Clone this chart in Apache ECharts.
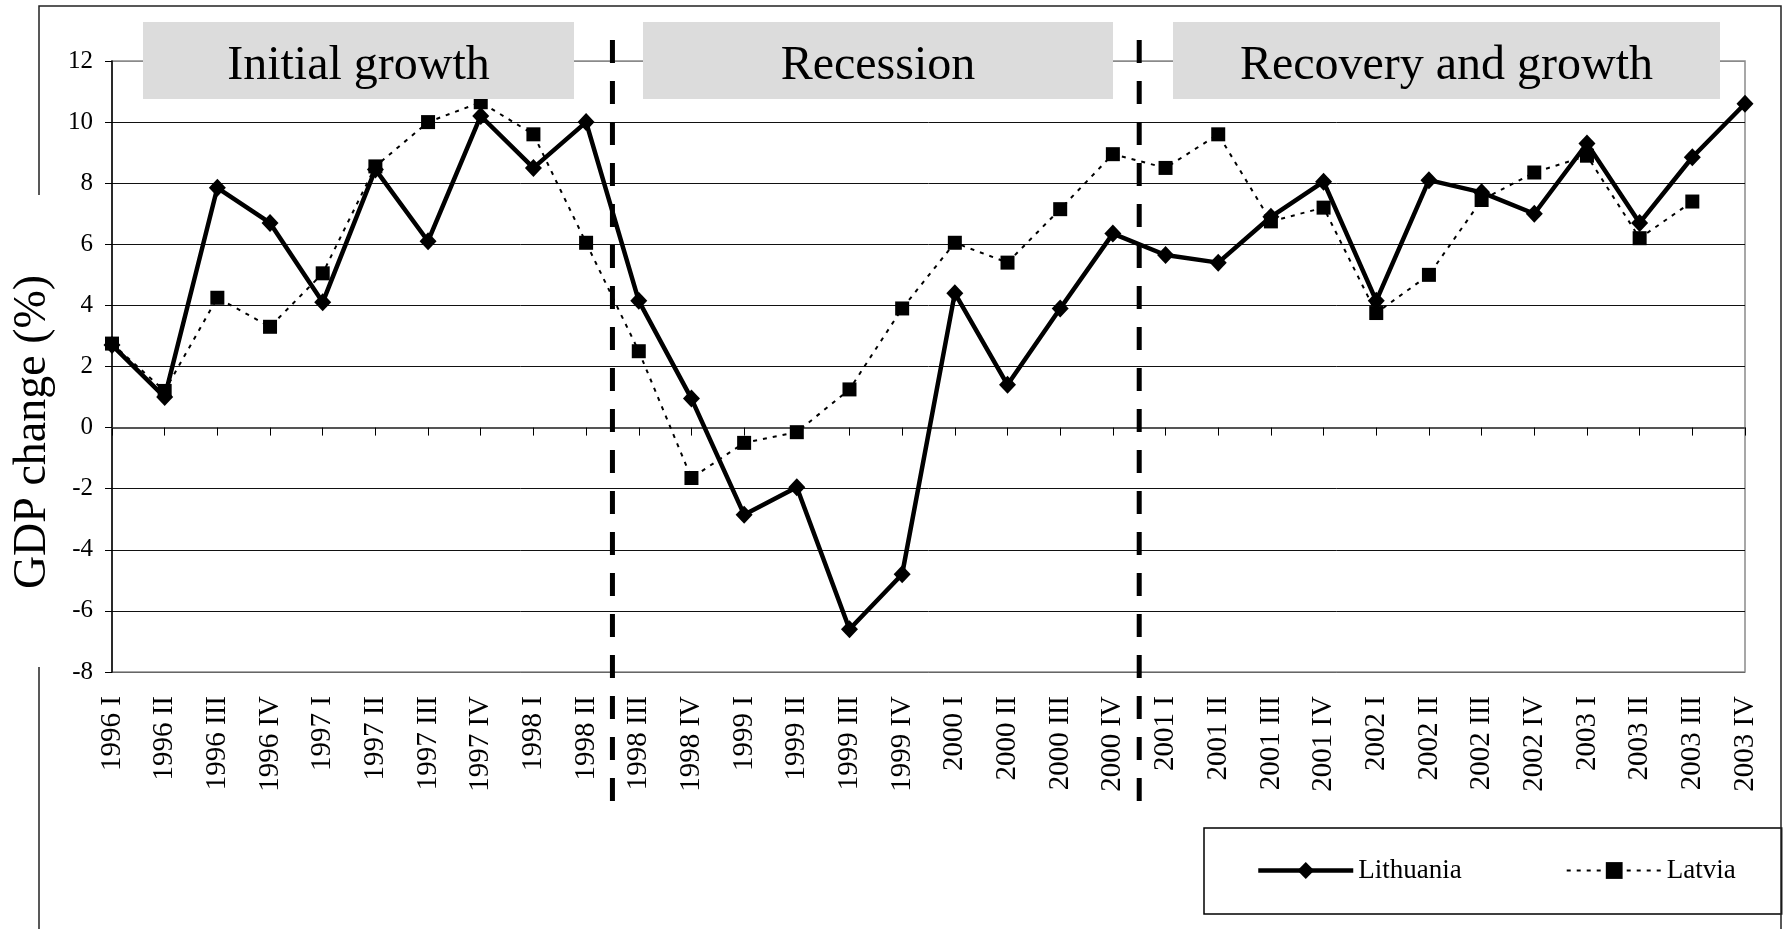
<!DOCTYPE html>
<html>
<head>
<meta charset="utf-8">
<title>GDP change: Lithuania and Latvia, 1996-2003</title>
<script src="https://cdn.jsdelivr.net/npm/echarts@6/dist/echarts.min.js"></script>
<style>
  html, body { margin: 0; padding: 0; background: #fff; }
  #chart { width: 1785px; height: 929px; }
</style>
</head>
<body>
<div id="chart"></div>
<script>
// Quarterly GDP change (%) against the same quarter of the previous year
const quarters = [
  '1996 I', '1996 II', '1996 III', '1996 IV',
  '1997 I', '1997 II', '1997 III', '1997 IV',
  '1998 I', '1998 II', '1998 III', '1998 IV',
  '1999 I', '1999 II', '1999 III', '1999 IV',
  '2000 I', '2000 II', '2000 III', '2000 IV',
  '2001 I', '2001 II', '2001 III', '2001 IV',
  '2002 I', '2002 II', '2002 III', '2002 IV',
  '2003 I', '2003 II', '2003 III', '2003 IV'
];
const lithuania = [
  2.7, 1.0, 7.85, 6.7,
  4.1, 8.45, 6.1, 10.2,
  8.5, 10.0, 4.15, 0.95,
  -2.85, -1.95, -6.6, -4.8,
  4.4, 1.4, 3.9, 6.35,
  5.65, 5.4, 6.9, 8.05,
  4.15, 8.1, 7.7, 7.0,
  9.3, 6.7, 8.85, 10.6
];
const latvia = [
  2.75, 1.2, 4.25, 3.3,
  5.05, 8.55, 10.0, 10.65,
  9.6, 6.05, 2.5, -1.65,
  -0.5, -0.15, 1.25, 3.9,
  6.05, 5.4, 7.15, 8.95,
  8.5, 9.6, 6.75, 7.2,
  3.75, 5.0, 7.45, 8.35,
  8.9, 6.2, 7.4, null
];
const seriesNames = ['Lithuania', 'Latvia'];
const axisTitle = 'GDP change (%)';
const yMin = -8, yMax = 12, yStep = 2;

// Economic phases and the quarters between which each phase ends
const phaseNames = ['Initial growth', 'Recession', 'Recovery and growth'];
const phaseBreaks = [['1998 II', '1998 III'], ['2000 IV', '2001 I']];

const SERIF = '"Liberation Serif", "Times New Roman", serif';

const chart = echarts.init(document.getElementById('chart'), null, { renderer: 'canvas' });

// grid line colours: bottom and top edges lighter, inner lines black
const splitColors = [];
for (let v = yMin; v <= yMax; v += yStep) {
  splitColors.push(v === yMax ? '#8a8a8a' : (v === yMin ? '#666' : '#111'));
}

const lithuaniaLine = { color: '#000', width: 4.5 };
const latviaLine = { color: '#000', width: 2, type: [4, 6] };

chart.setOption({
  animation: false,
  backgroundColor: '#fff',
  grid: {
    left: 112, right: 40, top: 61, bottom: 257,
    show: true, borderColor: '#8a8a8a', borderWidth: 1.5,
    backgroundColor: 'transparent'
  },
  xAxis: {
    type: 'category',
    data: quarters,
    boundaryGap: false,
    axisLine: { show: true, lineStyle: { color: '#555', width: 2 } },
    axisTick: { show: true, length: 8, lineStyle: { color: '#000', width: 1 } },
    axisLabel: {
      interval: 0, rotate: 90, margin: 24,
      fontFamily: SERIF, fontSize: 29, color: '#000'
    },
    splitLine: { show: false }
  },
  yAxis: {
    type: 'value',
    min: yMin, max: yMax, interval: yStep,
    axisLine: { show: true, lineStyle: { color: '#000', width: 1.5 } },
    axisTick: { show: true, length: 7, lineStyle: { color: '#000', width: 1 } },
    axisLabel: { margin: 19, fontFamily: SERIF, fontSize: 25, color: '#000' },
    splitLine: { show: true, lineStyle: { color: splitColors, width: 1 } }
  },
  legend: {
    data: [
      { name: seriesNames[0], lineStyle: lithuaniaLine, itemStyle: { color: '#000' } },
      { name: seriesNames[1], lineStyle: latviaLine, itemStyle: { color: '#000' } }
    ],
    orient: 'horizontal',
    left: 1204, top: 828,
    padding: [29, 46, 30, 52],
    borderColor: '#000', borderWidth: 1.5,
    backgroundColor: '#fff',
    itemWidth: 95, itemHeight: 21, itemGap: 104,
    textStyle: { fontFamily: SERIF, fontSize: 27, color: '#000' }
  },
  series: [
    {
      name: seriesNames[1],
      type: 'line',
      data: latvia,
      symbol: 'rect', symbolSize: 14,
      showAllSymbol: true,
      connectNulls: false,
      itemStyle: { color: '#000' },
      lineStyle: latviaLine,
      z: 3
    },
    {
      name: seriesNames[0],
      type: 'line',
      data: lithuania,
      symbol: 'diamond', symbolSize: [17, 18],
      showAllSymbol: true,
      itemStyle: { color: '#000' },
      lineStyle: lithuaniaLine,
      z: 4
    }
  ]
});

// Annotations: outer frame, axis title, phase banners and phase dividers
const catX = name => chart.convertToPixel({ xAxisIndex: 0 }, name);
const dividerX = phaseBreaks.map(([a, b]) => (catX(a) + catX(b)) / 2);

const bannerBoxes = [[143, 574], [643, 1113], [1173, 1720]];
const graphics = [];

// outer frame, open where the axis title sits
graphics.push({
  type: 'polyline', z: 90,
  shape: { points: [[39, 195], [39, 6], [1781, 6], [1781, 929]] },
  style: { stroke: '#222', lineWidth: 1.5, fill: null }
});
graphics.push({
  type: 'line', z: 90,
  shape: { x1: 39, y1: 667, x2: 39, y2: 929 },
  style: { stroke: '#222', lineWidth: 1.5 }
});

// vertical axis title
graphics.push({
  type: 'text', z: 90,
  x: 33, y: 432, rotation: Math.PI / 2,
  style: {
    text: axisTitle, fontFamily: SERIF, fontSize: 46, fill: '#000',
    align: 'center', verticalAlign: 'middle'
  }
});

// phase banners
phaseNames.forEach((label, i) => {
  const [x0, x1] = bannerBoxes[i];
  graphics.push({
    type: 'rect', z: 100,
    shape: { x: x0, y: 22, width: x1 - x0, height: 77 },
    style: { fill: '#dcdcdc', stroke: null }
  });
  graphics.push({
    type: 'text', z: 101,
    x: (x0 + x1) / 2, y: 66,
    style: {
      text: label, fontFamily: SERIF, fontSize: 48, fill: '#000',
      align: 'center', verticalAlign: 'middle'
    }
  });
});

// dashed dividers between phases
dividerX.forEach(x => {
  graphics.push({
    type: 'line', z: 100,
    shape: { x1: x, y1: 40, x2: x, y2: 810 },
    style: { stroke: '#000', lineWidth: 5, lineDash: [23, 18] }
  });
});

chart.setOption({ graphic: graphics });
</script>
</body>
</html>
